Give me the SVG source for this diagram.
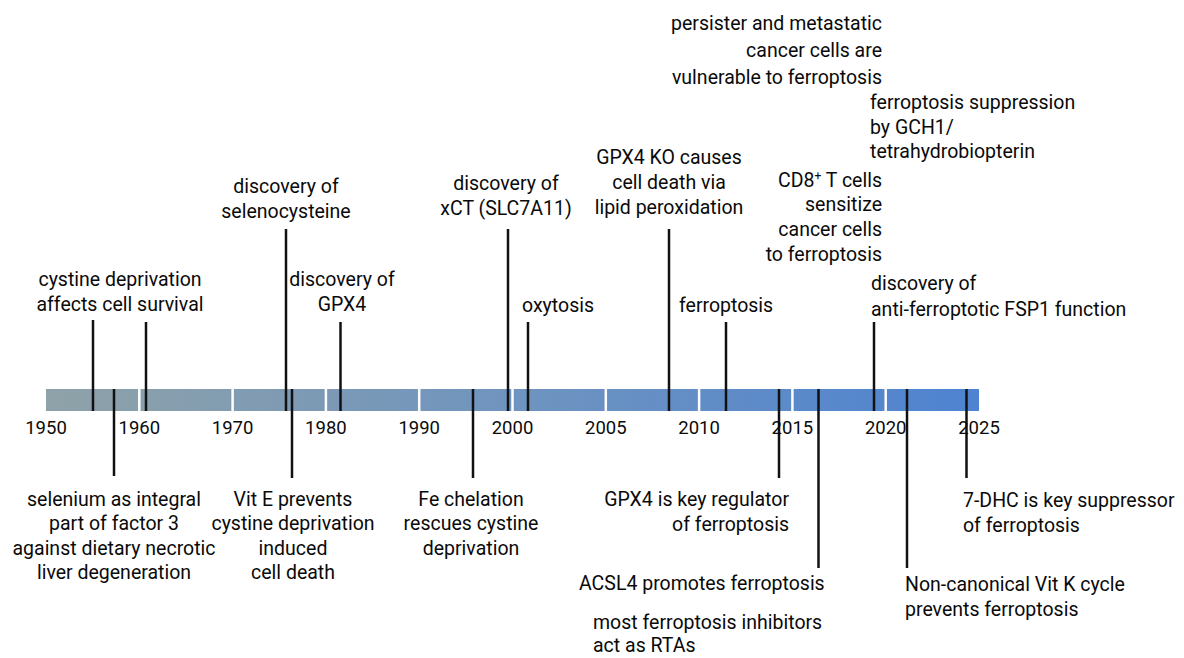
<svg xmlns="http://www.w3.org/2000/svg" width="1184" height="658" viewBox="0 0 1184 658">
<defs>
<linearGradient id="barGrad" gradientUnits="userSpaceOnUse" x1="46" y1="0" x2="979" y2="0">
<stop offset="0" stop-color="#8fa2a8"/>
<stop offset="0.5" stop-color="#6f94bf"/>
<stop offset="1" stop-color="#4e83d1"/>
</linearGradient>
<style>
text{font-family:Roboto,"Liberation Sans",sans-serif;font-size:19.5px;fill:#0a0a0a}
.yr{font-size:18.5px;text-anchor:middle}
.c{text-anchor:middle}
.e{text-anchor:end}
.tick{stroke:#111;stroke-width:2.5;fill:none}
.gap{stroke:#fff;stroke-width:2.5}
.sup{font-size:12px}
</style>
</defs>
<rect width="1184" height="658" fill="#fff"/>
<g id="timeline">
<rect x="46" y="389" width="933" height="22" fill="url(#barGrad)"/>
<g class="gap">
<line x1="139.3" y1="389" x2="139.3" y2="411"/>
<line x1="232.6" y1="389" x2="232.6" y2="411"/>
<line x1="325.9" y1="389" x2="325.9" y2="411"/>
<line x1="419.2" y1="389" x2="419.2" y2="411"/>
<line x1="512.5" y1="389" x2="512.5" y2="411"/>
<line x1="605.8" y1="389" x2="605.8" y2="411"/>
<line x1="699.1" y1="389" x2="699.1" y2="411"/>
<line x1="792.4" y1="389" x2="792.4" y2="411"/>
<line x1="885.7" y1="389" x2="885.7" y2="411"/>
</g>
</g>
<g id="connectors" class="tick">
<line x1="93" y1="320" x2="93" y2="411"/>
<line x1="146" y1="322" x2="146" y2="411"/>
<line x1="286" y1="229" x2="286" y2="411"/>
<line x1="340.5" y1="322" x2="340.5" y2="411"/>
<line x1="508" y1="229" x2="508" y2="411"/>
<line x1="528" y1="322" x2="528" y2="411"/>
<line x1="669" y1="229" x2="669" y2="411"/>
<line x1="726" y1="322" x2="726" y2="411"/>
<line x1="874" y1="322" x2="874" y2="411"/>
<line x1="114" y1="389" x2="114" y2="476"/>
<line x1="292" y1="389" x2="292" y2="478"/>
<line x1="473" y1="389" x2="473" y2="478"/>
<line x1="779" y1="389" x2="779" y2="478"/>
<line x1="818.5" y1="389" x2="818.5" y2="568"/>
<line x1="907" y1="389" x2="907" y2="568"/>
<line x1="966.5" y1="389" x2="966.5" y2="478"/>
</g>
<g id="years">
<text class="yr" x="46" y="434">1950</text>
<text class="yr" x="139.3" y="434">1960</text>
<text class="yr" x="232.6" y="434">1970</text>
<text class="yr" x="325.9" y="434">1980</text>
<text class="yr" x="419.2" y="434">1990</text>
<text class="yr" x="512.5" y="434">2000</text>
<text class="yr" x="605.8" y="434">2005</text>
<text class="yr" x="699.1" y="434">2010</text>
<text class="yr" x="792.4" y="434">2015</text>
<text class="yr" x="885.7" y="434">2020</text>
<text class="yr" x="979" y="434">2025</text>
</g>
<g id="n-cystine"><text class="c" x="120" y="286">cystine deprivation</text><text class="c" x="120" y="311">affects cell survival</text></g>
<g id="n-selenocysteine"><text class="c" x="286" y="193">discovery of</text><text class="c" x="286" y="218">selenocysteine</text></g>
<g id="n-gpx4"><text class="c" x="342" y="286">discovery of</text><text class="c" x="342" y="311">GPX4</text></g>
<g id="n-xct"><text class="c" x="506" y="190">discovery of</text><text class="c" x="506" y="215">xCT (SLC7A11)</text></g>
<g id="n-oxytosis"><text x="522" y="312">oxytosis</text></g>
<g id="n-gpx4ko"><text class="c" x="669" y="164">GPX4 KO causes</text><text class="c" x="669" y="189">cell death via</text><text class="c" x="669" y="214">lipid peroxidation</text></g>
<g id="n-ferroptosis"><text x="679" y="312">ferroptosis</text></g>
<g id="n-persister"><text class="e" x="882" y="30">persister and metastatic</text><text class="e" x="882" y="57">cancer cells are</text><text class="e" x="882" y="84">vulnerable to ferroptosis</text></g>
<g id="n-gch1"><text x="870" y="109">ferroptosis suppression</text><text x="870" y="134">by GCH1/</text><text x="870" y="158">tetrahydrobiopterin</text></g>
<g id="n-cd8"><text class="e" x="882" y="187">CD8<tspan class="sup" dy="-7">+</tspan><tspan dy="7"> T cells</tspan></text><text class="e" x="882" y="211">sensitize</text><text class="e" x="882" y="236">cancer cells</text><text class="e" x="882" y="261">to ferroptosis</text></g>
<g id="n-fsp1"><text x="871" y="290">discovery of</text><text x="871" y="316">anti-ferroptotic FSP1 function</text></g>
<g id="n-selenium"><text class="c" x="114" y="506">selenium as integral</text><text class="c" x="114" y="530">part of factor 3</text><text class="c" x="114" y="555">against dietary necrotic</text><text class="c" x="114" y="579">liver degeneration</text></g>
<g id="n-vite"><text class="c" x="293" y="506">Vit E prevents</text><text class="c" x="293" y="530">cystine deprivation</text><text class="c" x="293" y="555">induced</text><text class="c" x="293" y="579">cell death</text></g>
<g id="n-fe"><text class="c" x="471" y="506">Fe chelation</text><text class="c" x="471" y="530">rescues cystine</text><text class="c" x="471" y="555">deprivation</text></g>
<g id="n-gpx4key"><text class="e" x="789" y="506">GPX4 is key regulator</text><text class="e" x="789" y="531">of ferroptosis</text></g>
<g id="n-acsl4"><text x="579" y="590">ACSL4 promotes ferroptosis</text></g>
<g id="n-rta"><text x="593" y="629">most ferroptosis inhibitors</text><text x="593" y="652">act as RTAs</text></g>
<g id="n-7dhc"><text x="963" y="507">7-DHC is key suppressor</text><text x="963" y="532">of ferroptosis</text></g>
<g id="n-vitk"><text x="905" y="591">Non-canonical Vit K cycle</text><text x="905" y="616">prevents ferroptosis</text></g>
</svg>
